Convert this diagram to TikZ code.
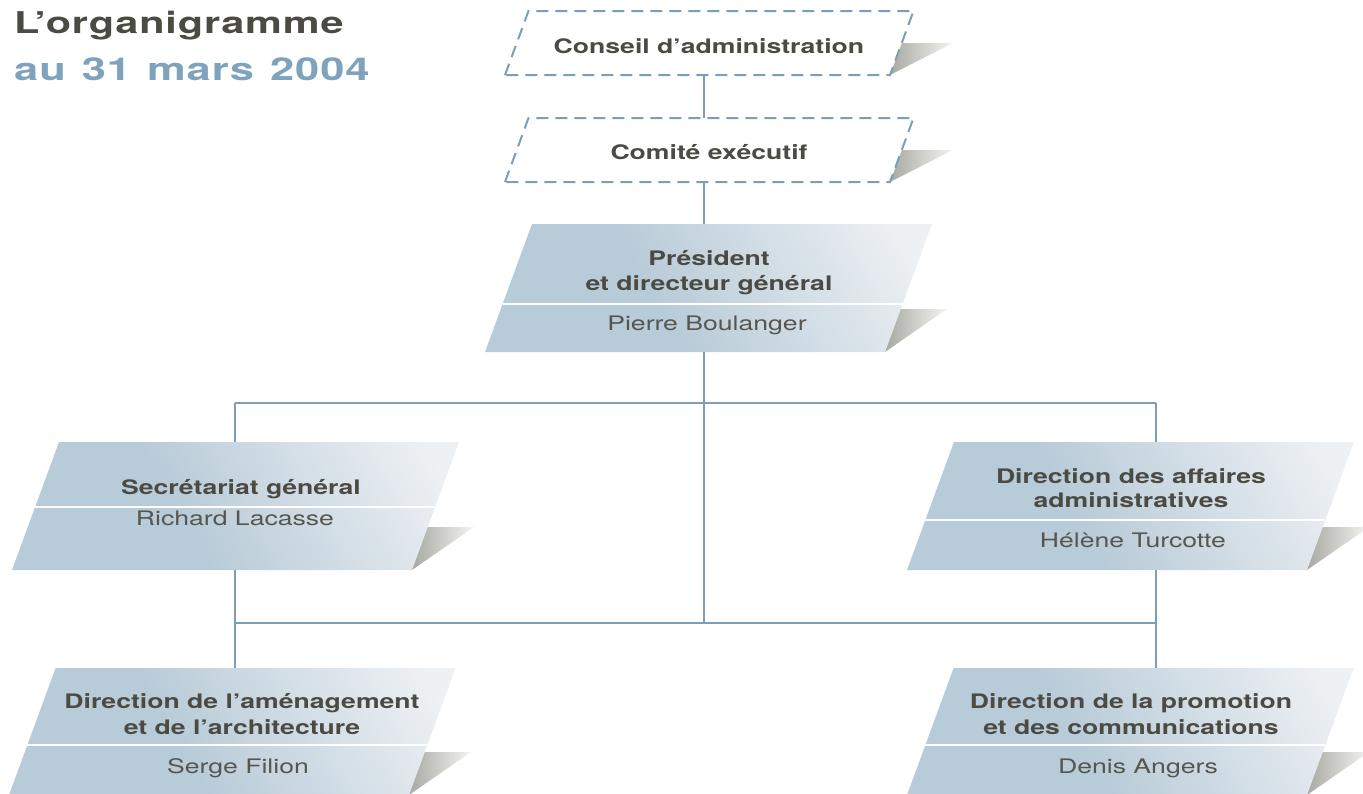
\documentclass[tikz,border=0pt]{standalone}
\usepackage{fontspec}
\setmainfont{TeX Gyre Heros}[FakeStretch=1.33]
\newfontfamily\orgtitlefont{TeX Gyre Heros}[FakeStretch=1.38, LetterSpace=3]
\definecolor{boxA}{HTML}{B8CBD8}
\definecolor{boxB}{HTML}{EEF1F4}
\definecolor{lineC}{HTML}{7C9EB6}
\definecolor{txtC}{HTML}{4B4B44}
\definecolor{nameC}{HTML}{56564F}
\definecolor{titleB}{HTML}{7FA3BC}
\definecolor{shA}{HTML}{A9A9A3}
\definecolor{shB}{HTML}{F4F4F2}
\pgfdeclarehorizontalshading{boxshade}{100bp}{color(0bp)=(boxA); color(25bp)=(boxA); color(42bp)=(boxA); color(80bp)=(boxB); color(100bp)=(boxB)}
\tikzset{
  conn/.style={draw=lineC, line width=2pt},
  boxfill/.style={shading=boxshade, shading angle=30},
  shadowfill/.style={left color=shA, right color=shB},
  divider/.style={draw=white, line width=1.6pt},
  dashbox/.style={fill=white, draw=lineC, line width=2pt, dash pattern=on 12pt off 7pt},
  boldtxt/.style={font=\bfseries\fontsize{20}{25}\selectfont, text=txtC, anchor=base, inner sep=0pt},
  nametxt/.style={font=\fontsize{20}{25}\selectfont, text=nameC, anchor=base, inner sep=0pt},
  titletxt/.style={font=\orgtitlefont\bfseries\fontsize{30}{36}\selectfont, anchor=base west, inner sep=0pt},
  subtitletxt/.style={font=\orgtitlefont\bfseries\fontsize{31.5}{36}\selectfont, anchor=base west, inner sep=0pt}
}
% #1 bottom-left x, #2 top y, #3 bottom y, #4 divider y
\newcommand\orgbox[4]{%
  \pgfmathsetmacro\oSl{0.367*(#3-#2)}%
  \pgfmathsetmacro\oTL{#1+\oSl}%
  \pgfmathsetmacro\oTR{#1+\oSl+400}%
  \pgfmathsetmacro\oBR{#1+400}%
  \pgfmathsetmacro\oDL{#1+0.367*(#3-#4)}%
  \pgfmathsetmacro\oDR{\oDL+400}%
  \shade[shadowfill] (\oBR,#3) -- ({\oBR+62},{#3-43}) -- ({\oBR+8},{#3-43}) -- cycle;
  \shade[boxfill] (#1,#3) -- (\oTL,#2) -- (\oTR,#2) -- (\oBR,#3) -- cycle;
  \draw[divider] (\oDL,#4) -- (\oDR,#4);
}
% #1 top y, #2 bottom y
\newcommand\dashorgbox[2]{%
  \shade[shadowfill] (890,#2) -- (953,{(#1+#2)/2}) -- (897,{(#1+#2)/2}) -- cycle;
  \draw[dashbox] (505,#2) -- (528.5,#1) -- (913.5,#1) -- (890,#2) -- cycle;
}
\begin{document}
\begin{tikzpicture}[x=1pt,y=-1pt]
\useasboundingbox (0,0) rectangle (1363,793);
% connection points
\coordinate (cab) at (704,75);
\coordinate (cet) at (704,118);
\coordinate (ceb) at (704,182);
\coordinate (pdt) at (704,224);
\coordinate (pdb) at (704,352);
\coordinate (jc1) at (704,403);
\coordinate (jl1) at (235,403);
\coordinate (jr1) at (1156,403);
\coordinate (sgt) at (235,442);
\coordinate (sgb) at (235,570);
\coordinate (dat) at (1156,442);
\coordinate (dab) at (1156,570);
\coordinate (jc2) at (704,623);
\coordinate (jl2) at (235,623);
\coordinate (jr2) at (1156,623);
\coordinate (amt) at (235,668);
\coordinate (prt) at (1156,668);
% connectors
\draw[conn] (cab) -- (cet);
\draw[conn] (ceb) -- (pdt);
\draw[conn] (pdb) -- (jc1) -- (jc2);
\draw[conn] (jl1) -- (jr1);
\draw[conn] (jl1) -- (sgt);
\draw[conn] (jr1) -- (dat);
\draw[conn] (sgb) -- (jl2) -- (amt);
\draw[conn] (dab) -- (jr2) -- (prt);
\draw[conn] (jl2) -- (jr2);
% boxes
\dashorgbox{11}{75}
\dashorgbox{118}{182}
\orgbox{485}{224}{352}{304}
\orgbox{12}{442}{570}{507}
\orgbox{907}{442}{570}{520}
\orgbox{9}{668}{795}{745}
\orgbox{907}{668}{795}{745}
% title
\node[titletxt, text=txtC] (title1) at (14,33.5) {L’organigramme};
\node[subtitletxt, text=titleB] (title2) at (14,80) {au\hspace{16pt}31\hspace{16pt}mars\hspace{16pt}2004};
% texts
\node[boldtxt] (ca) at (709,53) {Conseil d’administration};
\node[boldtxt] (ce) at (709,159) {Comité exécutif};
\node[boldtxt] (pd1) at (709,265) {Président};
\node[boldtxt] (pd2) at (709,290) {et directeur général};
\node[nametxt] (pdn) at (707,330) {Pierre Boulanger};
\node[boldtxt] (sg1) at (241,494) {Secrétariat général};
\node[nametxt] (sgn) at (235,525) {Richard Lacasse};
\node[boldtxt] (da1) at (1131,483) {Direction des affaires};
\node[boldtxt] (da2) at (1131,507) {administratives};
\node[nametxt] (dan) at (1133,547) {Hélène Turcotte};
\node[boldtxt] (am1) at (242,708) {Direction de l’aménagement};
\node[boldtxt] (am2) at (242,734) {et de l’architecture};
\node[nametxt] (amn) at (238,773) {Serge Filion};
\node[boldtxt] (pr1) at (1131,708) {Direction de la promotion};
\node[boldtxt] (pr2) at (1131,734) {et des communications};
\node[nametxt] (prn) at (1138,773) {Denis Angers};
\end{tikzpicture}
\end{document}
